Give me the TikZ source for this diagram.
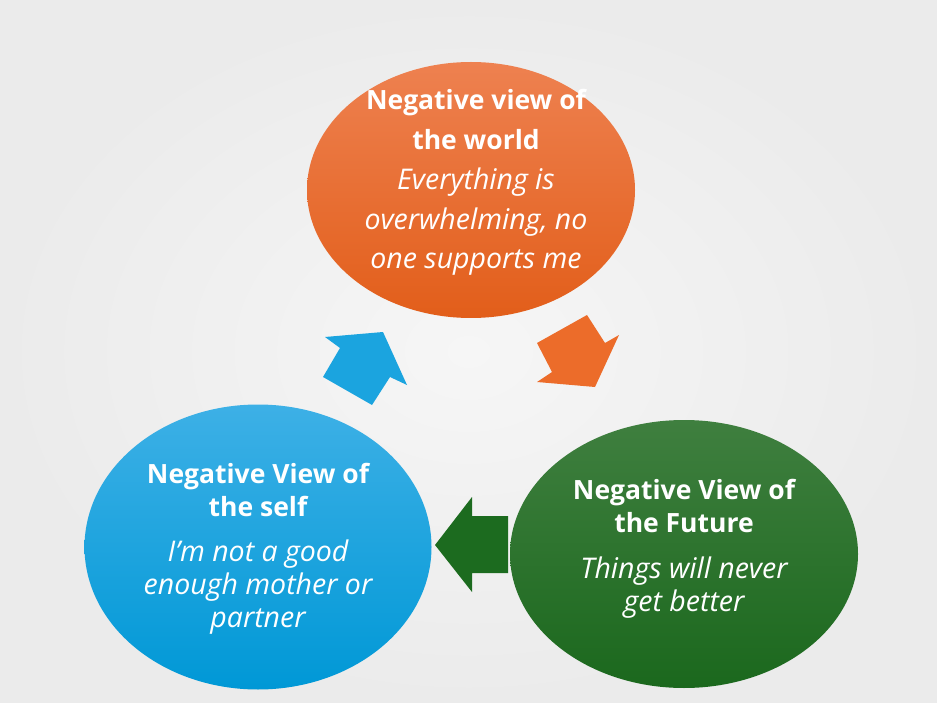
\documentclass[tikz,border=0pt]{standalone}
\usepackage{fontspec}
\setmainfont{Open Sans}
\usetikzlibrary{shapes.geometric}
\definecolor{bgc}{HTML}{F6F6F6}
\definecolor{bge}{HTML}{EBEBEB}
\definecolor{orT}{HTML}{EE8150}
\definecolor{orB}{HTML}{E25E1A}
\definecolor{blT}{HTML}{3DB0E6}
\definecolor{blB}{HTML}{0098D6}
\definecolor{grT}{HTML}{3F7F3F}
\definecolor{grB}{HTML}{1B681D}
\definecolor{arO}{HTML}{EC6C2A}
\definecolor{arB}{HTML}{1BA4DF}
\definecolor{arG}{HTML}{1C6B1F}
\newcommand{\hb}[1]{{\fontsize{26.5}{33}\selectfont\bfseries #1}}
\newcommand{\hi}[1]{{\fontsize{28.5}{33}\selectfont\itshape #1}}
\tikzset{
  bubble/.style={ellipse, draw=none, inner sep=0pt},
  btext/.style={text=white, align=center, inner sep=0pt},
}
\begin{document}
\begin{tikzpicture}[x=1pt,y=-1pt]
\path[inner color=bgc, outer color=bge] (0,0) rectangle (937,703);
\useasboundingbox (0,0) rectangle (937,703);
% bubbles
\node[bubble, minimum width=328pt, minimum height=256pt, top color=orT, bottom color=orB] (world) at (471,190) {};
\node[bubble, minimum width=347pt, minimum height=285pt, top color=blT, bottom color=blB] (self) at (258,547) {};
\node[bubble, minimum width=348pt, minimum height=268pt, top color=grT, bottom color=grB] (future) at (684,554) {};
% texts
\node[btext, font=\fontsize{26}{39.5}\selectfont] (tw) at (476,182.5) {\hb{Negative view of}\\\hb{the world}\\[1pt]\hi{Everything is}\\\hi{overwhelming, no}\\\hi{one supports me}};
\node[btext, font=\fontsize{26}{33}\selectfont] (ts) at (258,548.5) {\hb{Negative View of}\\\hb{the self}\\[12pt]\hi{I’m not a good}\\\hi{enough mother or}\\\hi{partner}};
\node[btext, font=\fontsize{26}{33}\selectfont] (tf) at (684,549) {\hb{Negative View of}\\\hb{the Future}\\[13pt]\hi{Things will never}\\\hi{get better}};
% arrows
\fill[arB] (325,337) -- (383,332) -- (407,385) -- (390,377) -- (372,405) -- (323,377) -- (340,348) -- cycle;
\fill[arO] (587,315) -- (605,343) -- (619,335) -- (595,387) -- (537,382) -- (552,372) -- (537,343) -- cycle;
\fill[arG] (435,545) -- (472,497) -- (472,516) -- (508,516) -- (508,573) -- (472,573) -- (472,592) -- cycle;
\end{tikzpicture}
\end{document}
